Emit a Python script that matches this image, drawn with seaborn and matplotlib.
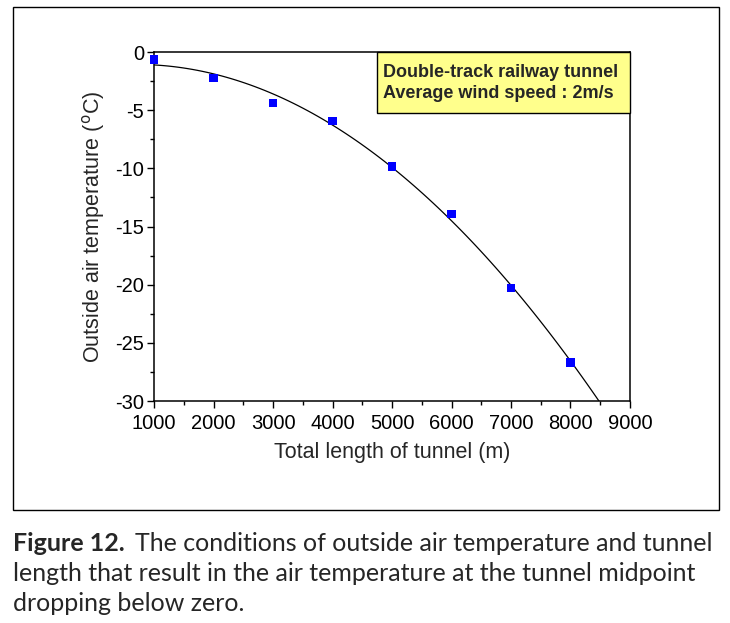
import numpy as np
import pandas as pd
import matplotlib
matplotlib.use("Agg")
import matplotlib.pyplot as plt
import seaborn as sns
from matplotlib.patches import Rectangle
from matplotlib.ticker import MultipleLocator

# Data
tunnel_length = [1000, 2000, 3000, 4000, 5000, 6000, 7000, 8000]
air_temp = [-0.63, -2.24, -4.36, -5.93, -9.83, -13.9, -20.3, -26.7]
x_ticks = [1000, 2000, 3000, 4000, 5000, 6000, 7000, 8000, 9000]
y_ticks = [0, -5, -10, -15, -20, -25, -30]
note_lines = ["Double-track railway tunnel", "Average wind speed : 2m/s"]
caption_bold = "Figure 12."
caption_lines = [
    "The conditions of outside air temperature and tunnel",
    "length that result in the air temperature at the tunnel midpoint",
    "dropping below zero.",
]

df = pd.DataFrame({"length": tunnel_length, "temp": air_temp})

sns.set_style("ticks")
plt.rcParams["font.family"] = ["Liberation Sans", "DejaVu Sans"]
plt.rcParams["axes.unicode_minus"] = False

fig = plt.figure(figsize=(7.3, 6.23), dpi=100)
ax = fig.add_axes([0.211, 0.3563, 0.652, 0.5602])

ax.set_xlim(1000, 9000)
ax.set_ylim(-30, 0)

# quadratic fit line, extended over the full x range
sns.regplot(data=df, x="length", y="temp", order=2, ci=None, scatter=False,
            truncate=False, color="black", line_kws={"linewidth": 0.9}, ax=ax)
sns.scatterplot(data=df, x="length", y="temp", marker="s", s=36, color="#0000FF",
                edgecolor="none", ax=ax, zorder=3, clip_on=False)

ax.set_xlim(1000, 9000)
ax.set_ylim(-30, 0)
ax.set_xticks(x_ticks)
ax.set_yticks(y_ticks)
ax.xaxis.set_minor_locator(MultipleLocator(500))
ax.yaxis.set_minor_locator(MultipleLocator(2.5))
ax.tick_params(which="both", direction="out", top=False, right=False,
               labelsize=14.5, colors="black", width=1, pad=2)
ax.tick_params(axis="x", which="major", pad=4)
ax.tick_params(which="major", length=5)
ax.tick_params(which="minor", length=3)
for sp in ax.spines.values():
    sp.set_visible(True)
    sp.set_linewidth(1.1)
    sp.set_color("black")

ax.set_xlabel("Total length of tunnel (m)", fontsize=15.5, labelpad=7)
ax.set_ylabel("Outside air temperature ($^\\mathrm{o}$C)", fontsize=15.5, labelpad=6)

# yellow note box in the upper right corner
ax.add_patch(Rectangle((0.4685, 0.825), 0.5315, 0.175, transform=ax.transAxes,
                       facecolor="#FFFF8C", edgecolor="black", linewidth=1.0,
                       zorder=4, clip_on=False))
ax.text(0.481, 0.9125, "\n".join(note_lines), transform=ax.transAxes,
        ha="left", va="center", fontsize=13, fontweight="bold", linespacing=1.3,
        zorder=5)

# outer frame around the chart
fig.add_artist(Rectangle((13 / 730, 1 - 510 / 623), 706 / 730, 503 / 623,
                         transform=fig.transFigure, fill=False,
                         edgecolor="black", linewidth=1.0))

# caption
cap_font = ["Lato", "DejaVu Sans"]
cap_size = 18
x0 = 13 / 730
base_y = [1 - 551 / 623, 1 - 581 / 623, 1 - 611 / 623]
t = fig.text(x0, base_y[0], caption_bold, fontsize=cap_size, fontweight="bold",
             family=cap_font, va="baseline")
fig.canvas.draw()
bb = t.get_window_extent(fig.canvas.get_renderer())
fig.text(bb.x1 / 730 + 10 / 730, base_y[0], caption_lines[0], fontsize=cap_size,
         family=cap_font, va="baseline")
fig.text(x0, base_y[1], caption_lines[1], fontsize=cap_size, family=cap_font, va="baseline")
fig.text(x0, base_y[2], caption_lines[2], fontsize=cap_size, family=cap_font, va="baseline")

plt.savefig("out.png", dpi=100)
